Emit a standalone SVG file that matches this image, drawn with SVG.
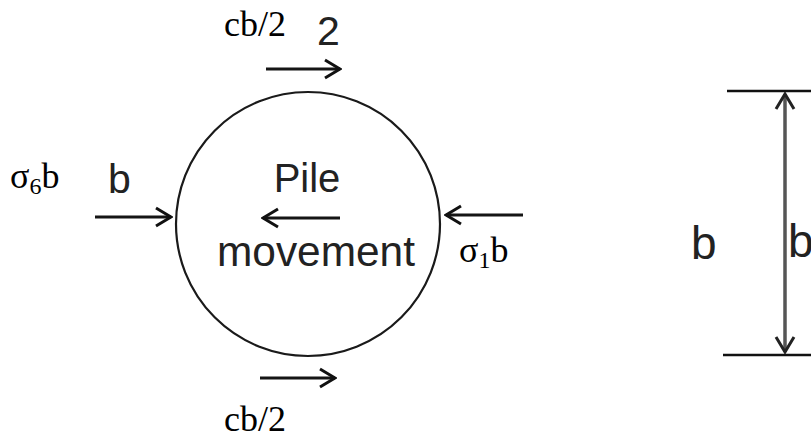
<svg xmlns="http://www.w3.org/2000/svg" width="811" height="438" viewBox="0 0 811 438">
<defs>
<marker id="v" viewBox="-16 -11 18 22" markerWidth="18" markerHeight="22" refX="0" refY="0" orient="auto" markerUnits="userSpaceOnUse">
<path d="M-15,-9 L0,0 L-15,9" fill="none" stroke="#111" stroke-width="3" stroke-linejoin="miter"/>
</marker>
<marker id="vg" viewBox="-16 -11 18 22" markerWidth="18" markerHeight="22" refX="0" refY="0" orient="auto-start-reverse" markerUnits="userSpaceOnUse">
<path d="M-15,-9 L0,0 L-15,9" fill="none" stroke="#222" stroke-width="3"/>
</marker>
</defs>
<style>
.a{stroke:#151515;stroke-width:3;fill:none}
.s{font-family:"Liberation Sans",Arial,sans-serif;fill:#222}
.t{font-family:"Liberation Serif","Times New Roman",serif;fill:#000}
</style>
<rect width="811" height="438" fill="#fff"/>
<g id="pile">
<circle cx="308" cy="224" r="132" fill="none" stroke="#1a1a1a" stroke-width="2.2"/>
<text class="s" x="307" y="192" font-size="40" text-anchor="middle">Pile</text>
<text class="s" x="217" y="266" font-size="43" textLength="198" lengthAdjust="spacingAndGlyphs">movement</text>
</g>
<g id="connectors">
<line class="a" x1="266" y1="69" x2="340" y2="69" marker-end="url(#v)"/>
<line class="a" x1="260" y1="378" x2="335" y2="378" marker-end="url(#v)"/>
<line class="a" x1="95" y1="217" x2="171" y2="217" marker-end="url(#v)"/>
<line class="a" x1="523" y1="215" x2="446" y2="215" marker-end="url(#v)"/>
<line class="a" x1="340" y1="218" x2="263" y2="218" marker-end="url(#v)"/>
</g>
<g id="labels">
<text class="t" x="224" y="36" font-size="36">cb/2</text>
<text class="s" x="317" y="45" font-size="41">2</text>
<text class="t" x="224" y="431" font-size="36">cb/2</text>
<text class="t" x="10" y="188" font-size="36">σ<tspan font-size="24" dy="6">6</tspan><tspan dy="-6">b</tspan></text>
<text class="s" x="108" y="193" font-size="41">b</text>
<text class="t" x="459" y="262" font-size="36">σ<tspan font-size="24" dy="6">1</tspan><tspan dy="-6">b</tspan></text>
</g>
<g id="dimension">
<line x1="727" y1="91" x2="811" y2="91" stroke="#111" stroke-width="2.5"/>
<line x1="723" y1="355" x2="811" y2="355" stroke="#111" stroke-width="2.5"/>
<line x1="785" y1="94" x2="785" y2="352" stroke="#555" stroke-width="3.5" marker-start="url(#vg)" marker-end="url(#vg)"/>
<text class="s" x="691" y="259" font-size="46">b</text>
<text class="s" x="788" y="257" font-size="46">b</text>
</g>
</svg>
